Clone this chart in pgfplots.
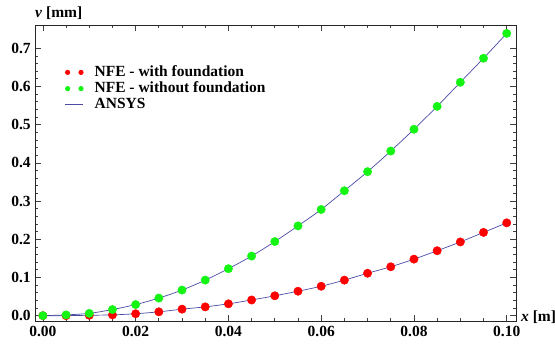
\documentclass[border=0pt]{standalone}
\usepackage{pgfplots}
\pgfplotsset{compat=1.18}
\usepackage{fontspec}
\setmainfont{Liberation Serif}
\definecolor{ansys}{RGB}{75,75,165}
\definecolor{ptred}{RGB}{255,0,0}
\definecolor{ptgreen}{RGB}{20,245,20}
\pgfplotstableread{
x       g       r
0       0       0
0.005   0.002   0
0.010   0.006   0.001
0.015   0.016   0.002
0.020   0.029   0.005
0.025   0.046   0.010
0.030   0.067   0.017
0.035   0.093   0.023
0.040   0.123   0.031
0.045   0.156   0.041
0.050   0.194   0.052
0.055   0.235   0.064
0.060   0.278   0.077
0.065   0.327   0.093
0.070   0.377   0.111
0.075   0.431   0.128
0.080   0.488   0.148
0.085   0.548   0.170
0.090   0.611   0.193
0.095   0.674   0.218
0.100   0.739   0.243
}\data
\begin{document}
\fontsize{15.5}{18}\selectfont
\begin{tikzpicture}
\begin{axis}[
  scale only axis, width=481pt, height=296pt,
  xmin=-0.0017, xmax=0.102, ymin=-0.014, ymax=0.761,
  xtick={0,0.02,0.04,0.06,0.08,0.1},
  ytick={0,0.1,0.2,0.3,0.4,0.5,0.6,0.7},
  minor x tick num=3, minor y tick num=4,
  scaled x ticks=false, scaled y ticks=false,
  tick align=inside, major tick length=6pt, minor tick length=3.5pt,
  /pgf/number format/assume math mode=true,
  xticklabel style={font=\bfseries, /pgf/number format/fixed, /pgf/number format/fixed zerofill, /pgf/number format/precision=2},
  yticklabel style={font=\bfseries, /pgf/number format/fixed, /pgf/number format/fixed zerofill, /pgf/number format/precision=1, xshift=1pt},
  axis line style={black!85, line width=0.8pt},
  tick style={black!75, line width=0.7pt},
  every axis x label/.style={at={(rel axis cs:1,0)}, anchor=base west, inner sep=0pt, xshift=5pt, font=\bfseries},
  every axis y label/.style={at={(rel axis cs:0,1)}, anchor=base west, inner sep=0pt, yshift=7pt, font=\bfseries},
  xlabel={\textit{x} [m]},
  ylabel={\textit{v} [mm]},
  legend style={draw=none, fill=none, at={(rel axis cs:0.062,0.868)}, anchor=north west, font=\bfseries, row sep=0pt, inner sep=0pt, nodes={inner sep=1.5pt}},
  legend cell align=left,
]
\addplot[ansys, line width=0.7pt, smooth, forget plot] table[x=x,y=g]{\data};
\addplot[ansys, line width=0.7pt, smooth, forget plot] table[x=x,y=r]{\data};
\addplot[only marks, mark=*, mark size=4.2pt, ptred, mark options={draw=none, fill=ptred},
  legend image code/.code={\fill[ptred, draw=none] (2.5pt,0) circle (2.6pt); \fill[ptred, draw=none] (15.9pt,0) circle (2.6pt); \path[draw=none, fill=none] (0,0) -- (28pt,0);}]
  table[x=x,y=r]{\data};
\addlegendentry{NFE - with foundation}
\addplot[only marks, mark=*, mark size=4.2pt, ptgreen, mark options={draw=none, fill=ptgreen},
  legend image code/.code={\fill[ptgreen, draw=none] (2.5pt,0) circle (2.6pt); \fill[ptgreen, draw=none] (15.9pt,0) circle (2.6pt); \path[draw=none, fill=none] (0,0) -- (28pt,0);}]
  table[x=x,y=g]{\data};
\addlegendentry{NFE - without foundation}
\addlegendimage{ansys, legend image code/.code={\fill[ansys, draw=none] (0,-0.95pt) rectangle (18pt,0.95pt); \path[draw=none, fill=none] (0,0) -- (28pt,0);}}
\addlegendentry{ANSYS}
\coordinate (bl) at (rel axis cs:0,0);
\coordinate (tr) at (rel axis cs:1,1);
\end{axis}
\pgfresetboundingbox
\path ([shift={(-35pt,-23pt)}]bl) rectangle ([shift={(39pt,25pt)}]tr);
\end{tikzpicture}
\end{document}
